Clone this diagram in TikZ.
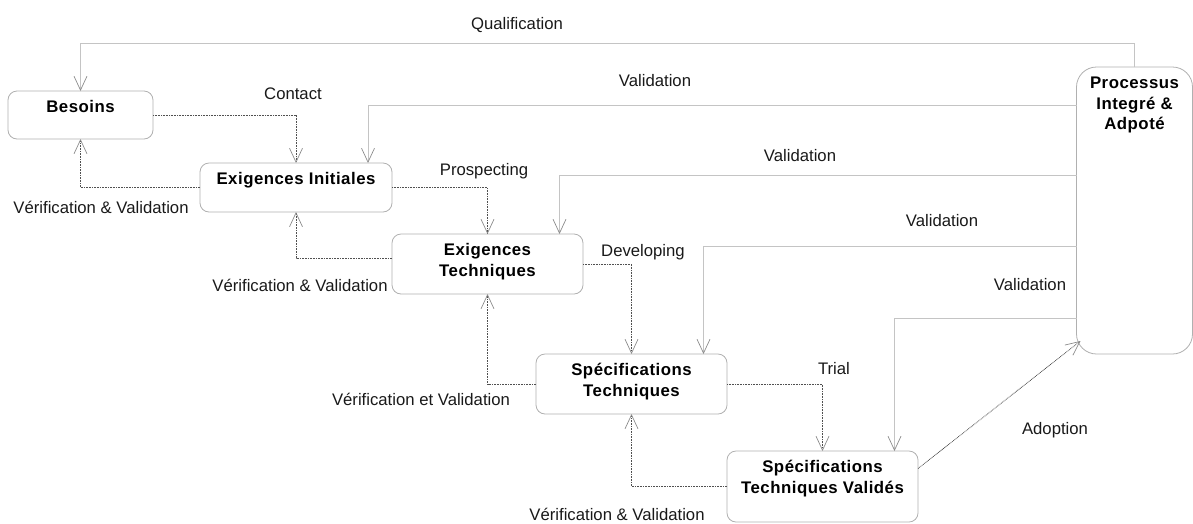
\documentclass[tikz,border=0pt]{standalone}
\usepackage{fontspec}
\setmainfont{Liberation Sans}
\newfontfamily\bfam[LetterSpace=3]{Liberation Sans}
\usetikzlibrary{arrows.meta}
\definecolor{solgray}{HTML}{C4C4C4}
\definecolor{dotgray}{HTML}{505050}
\definecolor{boxgray}{HTML}{B0B0B0}
\definecolor{arrgray}{HTML}{8C8C8C}
\newcommand{\boxtxt}[3]{\parbox[c][#2][t]{#1}{\centering\bfam\bfseries\fontsize{16.8}{20.5}\selectfont\rule{0pt}{21.5pt}#3}}
\tikzset{
  box/.style={draw=boxgray, line width=0.8pt, rounded corners=9pt, inner sep=0pt, outer sep=0pt, fill=white},
  tip/.style={-{Straight Barb[length=14pt,width=13pt,line width=0.7pt,color=arrgray]}},
  solidconn/.style={tip, draw=solgray, line width=0.8pt},
  dotconn/.style={tip, draw=dotgray, line width=0.8pt, dash pattern=on 0.8pt off 0.8pt},
  lbl/.style={font=\fontsize{16.7}{20}\selectfont, anchor=base, inner sep=0pt, text=black!90}
}
\begin{document}
\begin{tikzpicture}[x=1pt,y=-1pt]
\useasboundingbox (0,0) rectangle (1193,523);
% boxes
\node[box, minimum width=145pt, minimum height=48pt] (bes) at (80.5,115) {\boxtxt{145pt}{48pt}{Besoins}};
\node[box, minimum width=192pt, minimum height=49pt] (exi) at (296,187.5) {\boxtxt{192pt}{49pt}{Exigences Initiales}};
\node[box, minimum width=191pt, minimum height=60pt] (ext) at (487.5,264) {\boxtxt{191pt}{60pt}{Exigences\\Techniques}};
\node[box, minimum width=191pt, minimum height=60pt] (spt) at (631.5,384) {\boxtxt{191pt}{60pt}{Spécifications\\Techniques}};
\node[box, minimum width=191pt, minimum height=71pt] (stv) at (822.5,486.5) {\boxtxt{191pt}{71pt}{Spécifications\\Techniques Validés}};
\node[box, rounded corners=20pt, minimum width=116pt, minimum height=287pt] (proc) at (1134.5,210.5) {\boxtxt{116pt}{287pt}{Processus\\Integré \&\\Adpoté}};
% helper coordinates
\coordinate (q) at (0,43);
\coordinate (v1) at (0,105);
\coordinate (v2) at (0,175);
\coordinate (v3) at (0,246);
\coordinate (v4) at (0,318);
% qualification
\draw[solidconn] (proc.north) -- (proc.north |- q) -| (bes.north);
% validations
\draw[solidconn] (proc.west |- v1) -| ([xshift=72pt]exi.north);
\draw[solidconn] (proc.west |- v2) -| ([xshift=72pt]ext.north);
\draw[solidconn] (proc.west |- v3) -| ([xshift=72pt]spt.north);
\draw[solidconn] (proc.west |- v4) -| ([xshift=72pt]stv.north);
% forward dotted
\draw[dotconn] (bes.east) -| (exi.north);
\draw[dotconn] (exi.east) -| (ext.north);
\draw[dotconn] (ext.east) -| (spt.north);
\draw[dotconn] (spt.east) -| (stv.north);
\draw[dotconn] ([yshift=18pt]stv.east) -- ([xshift=4pt,yshift=13pt]proc.south west);
% backward dotted
\draw[dotconn] (exi.west) -| (bes.south);
\draw[dotconn] ([yshift=6pt]ext.west) -| (exi.south);
\draw[dotconn] (spt.west) -| (ext.south);
\draw[dotconn] (stv.west) -| (spt.south);
% labels
\node[lbl] (lq) at (517,29) {Qualification};
\node[lbl] (lv1) at (655,86) {Validation};
\node[lbl] (lc) at (293,99) {Contact};
\node[lbl] (lvv1) at (101,213) {Vérification \& Validation};
\node[lbl] (lp) at (484,175) {Prospecting};
\node[lbl] (lv2) at (800,161) {Validation};
\node[lbl] (lvv2) at (300,291) {Vérification \& Validation};
\node[lbl] (ld) at (643,256) {Developing};
\node[lbl] (lv3) at (942,226) {Validation};
\node[lbl] (lv4) at (1030,290) {Validation};
\node[lbl] (lvv3) at (421,405) {Vérification et Validation};
\node[lbl] (lt) at (834,374) {Trial};
\node[lbl] (la) at (1055,434) {Adoption};
\node[lbl] (lvv4) at (617,520) {Vérification \& Validation};
\end{tikzpicture}
\end{document}
